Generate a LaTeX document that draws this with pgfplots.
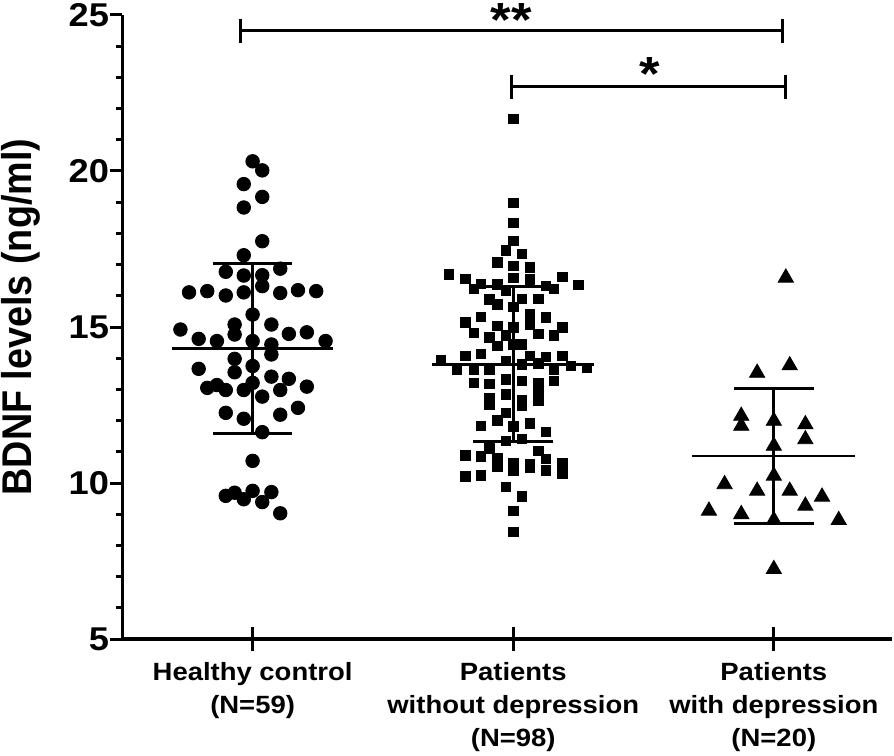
\documentclass[border=0pt]{standalone}
\usepackage{fontspec}
\setmainfont{Liberation Sans}[FakeStretch=1.1]
\newfontfamily\ylabfont{Liberation Sans}[FakeStretch=0.909]
\usepackage{pgfplots}
\pgfplotsset{compat=1.18}
\usepackage{pgfplotstable}

\pgfplotstableread{
x y
1.000 20.31
1.037 20.02
0.966 19.58
1.037 19.17
0.966 18.83
1.037 17.75
0.966 17.30
0.897 16.77
0.966 16.65
1.037 16.66
1.106 16.87
1.037 16.31
0.756 16.11
0.826 16.15
0.897 16.01
0.966 16.11
1.106 16.09
1.174 16.18
1.244 16.15
1.000 15.40
0.723 14.92
0.931 15.08
1.072 15.08
0.793 14.62
0.931 14.76
1.139 14.78
1.208 14.83
0.863 14.55
1.000 14.55
1.072 14.44
1.280 14.55
1.072 14.12
0.931 13.98
0.793 13.66
0.931 13.55
1.000 13.75
1.072 13.41
1.139 13.34
0.826 13.05
0.863 13.14
0.897 12.98
0.966 12.98
1.000 13.21
1.037 12.77
1.106 12.98
1.208 13.09
0.897 12.25
0.966 12.06
1.106 12.19
1.174 12.41
1.037 11.63
1.000 10.71
0.897 9.59
0.931 9.69
0.966 9.48
1.000 9.75
1.037 9.39
1.072 9.71
1.106 9.03
}\groupA

\pgfplotstableread{
x y
2.000 21.67
2.000 18.97
2.000 18.33
2.000 17.75
1.971 17.46
2.033 17.35
1.940 17.07
2.000 16.95
2.065 16.91
1.752 16.68
1.816 16.55
2.000 16.57
2.065 16.52
2.189 16.61
1.877 16.39
1.940 16.36
2.250 16.34
1.848 16.22
1.973 16.15
2.125 16.31
2.157 16.22
1.909 15.88
2.033 15.90
2.097 15.90
1.940 15.72
2.000 15.65
1.816 15.15
1.877 15.33
2.065 15.40
2.125 15.31
1.940 15.03
2.000 14.99
2.065 15.08
2.189 14.99
1.848 14.81
1.909 14.67
1.971 14.73
2.097 14.78
2.157 14.73
1.940 14.39
2.000 14.44
2.033 14.44
1.723 13.94
1.816 14.07
1.877 14.14
1.973 13.91
2.065 14.07
2.125 14.05
2.189 14.07
1.784 13.62
1.848 13.64
1.909 13.62
2.033 13.80
2.097 13.83
2.157 13.64
2.221 13.75
2.282 13.69
1.848 13.21
1.909 13.18
1.973 13.32
2.033 13.27
2.097 13.19
2.157 13.27
2.097 12.97
1.973 12.84
1.909 12.71
1.909 12.52
2.033 12.66
2.033 12.47
2.097 12.63
1.973 12.25
1.940 12.01
2.065 11.91
1.877 11.83
2.000 11.81
2.125 11.63
1.973 11.35
2.033 11.42
1.909 11.11
2.097 11.03
1.816 10.89
1.877 10.85
1.940 10.81
2.125 10.78
2.000 10.65
2.065 10.60
2.189 10.63
1.940 10.51
2.000 10.41
2.065 10.49
2.125 10.41
2.189 10.30
1.816 10.21
1.877 10.25
1.973 9.87
2.033 9.57
2.000 9.11
2.000 8.43
}\groupB

\pgfplotstableread{
x y
2.936 13.53
3.061 13.77
2.875 12.15
2.875 11.83
3.000 11.99
3.000 11.19
3.121 11.88
3.121 11.40
2.811 9.96
3.000 10.23
2.936 9.75
3.061 9.75
3.185 9.56
2.751 9.11
2.875 9.00
3.121 9.27
3.249 8.81
3.000 8.81
3.000 7.24
3.046 16.58
}\groupC

\begin{document}
\begin{tikzpicture}
\begin{axis}[
  x=130.5pt, y=15.625pt,
  xmin=0.5, xmax=3.455, ymin=5, ymax=25,
  axis lines*=left,
  axis line style={line width=1.6pt, black},
  clip=false,
  tick style={line width=1.5pt, black},
  minor tick style={line width=1.5pt, black},
  xtick={1,2,3},
  xticklabels={{Healthy control\\(N=59)},{Patients\\without depression\\(N=98)},{Patients\\with depression\\(N=20)}},
  major x tick style={draw=none},
  xticklabel style={align=center, anchor=north, inner sep=0pt, yshift=-11.5pt,
    font=\fontsize{12.5pt}{16.5pt}\selectfont\bfseries},
  ytick={5,10,15,20,25},
  minor y tick num=4,
  ytick align=outside,
  major tick length=6pt,
  minor tick length=3.3pt,
  yticklabel style={anchor=east, inner sep=0pt, xshift=-0.5pt,
    font=\fontsize{16.5pt}{19pt}\selectfont\bfseries},
  /pgf/number format/assume math mode=true,
  ylabel={BDNF levels (ng/ml)},
  ylabel style={at={(axis description cs:-0.1181,0.516)}, anchor=base, rotate=0,
    inner sep=0pt, font=\ylabfont\bfseries\fontsize{20.8pt}{24pt}\selectfont},
]
% bounding box
\path (axis cs:0.03065,1.256) rectangle (axis cs:3.4559,25.48);

% scatter groups
\addplot[only marks, mark=*, mark size=3.4pt, mark options={fill=black, draw=none}] table[x=x,y=y] {\groupA};
\addplot[only marks, mark=square*, mark size=2.35pt, mark options={fill=black, draw=none}] table[x=x,y=y] {\groupB};
\addplot[only marks, mark=triangle*, mark size=4.4pt, mark options={fill=black, draw=none}] table[x=x,y=y] {\groupC};

% mean and SD
\addplot[black, line width=1.4pt] coordinates {(0.69,14.31) (1.31,14.31)};
\addplot[black, line width=1.4pt] coordinates {(1,11.59) (1,17.03)};
\addplot[black, line width=1.4pt] coordinates {(0.847,17.03) (1.153,17.03)};
\addplot[black, line width=1.4pt] coordinates {(0.847,11.59) (1.153,11.59)};

\addplot[black, line width=1.4pt] coordinates {(1.69,13.80) (2.31,13.80)};
\addplot[black, line width=1.4pt] coordinates {(2,11.34) (2,16.30)};
\addplot[black, line width=1.4pt] coordinates {(1.847,16.30) (2.153,16.30)};
\addplot[black, line width=1.4pt] coordinates {(1.847,11.34) (2.153,11.34)};

\addplot[black, line width=1.2pt] coordinates {(2.686,10.86) (3.31,10.86)};
\addplot[black, line width=1.4pt] coordinates {(3,8.71) (3,13.03)};
\addplot[black, line width=1.4pt] coordinates {(2.847,13.03) (3.153,13.03)};
\addplot[black, line width=1.4pt] coordinates {(2.847,8.71) (3.153,8.71)};

% x ticks (crossing the axis)
\addplot[black, line width=1.5pt] coordinates {(1,4.616) (1,5.384)};
\addplot[black, line width=1.5pt] coordinates {(2,4.616) (2,5.384)};
\addplot[black, line width=1.5pt] coordinates {(3,4.616) (3,5.384)};

% significance brackets
\addplot[black, line width=1.5pt] coordinates {(0.954,24.49) (3.034,24.49)};
\addplot[black, line width=1.5pt] coordinates {(0.954,24.11) (0.954,24.87)};
\addplot[black, line width=1.5pt] coordinates {(3.034,24.11) (3.034,24.87)};
\addplot[black, line width=1.5pt] coordinates {(1.992,22.70) (3.046,22.70)};
\addplot[black, line width=1.5pt] coordinates {(1.992,22.32) (1.992,23.08)};
\addplot[black, line width=1.5pt] coordinates {(3.046,22.32) (3.046,23.08)};

\node[anchor=north, inner sep=0pt, font=\fontsize{24pt}{28pt}\selectfont\bfseries] at (axis cs:1.992,25.384) {**};
\node[anchor=north, inner sep=0pt, font=\fontsize{24pt}{28pt}\selectfont\bfseries] at (axis cs:2.525,23.656) {*};
\end{axis}
\end{tikzpicture}
\end{document}
